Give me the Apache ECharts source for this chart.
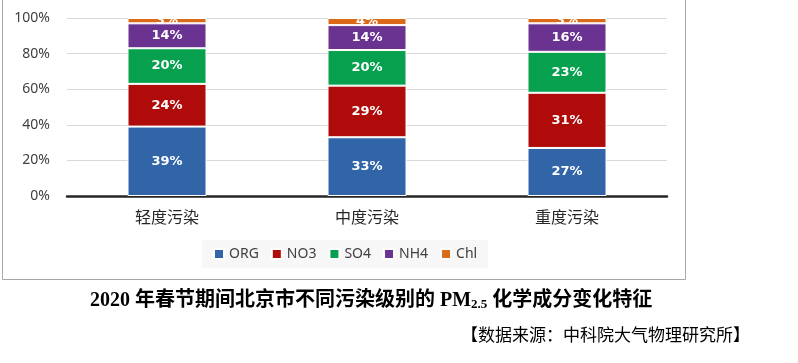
<!DOCTYPE html>
<html><head><meta charset="utf-8">
<script src="https://cdn.jsdelivr.net/npm/echarts@6/dist/echarts.min.js"></script>
<style>html,body{margin:0;padding:0;background:#fff}#c{width:798px;height:363px}</style>
</head><body><div id="c"></div>
<script>
const categories = ['轻度污染', '中度污染', '重度污染'];
const seriesNames = ['ORG', 'NO3', 'SO4', 'NH4', 'Chl'];
const ORG = [39, 33, 27];
const NO3 = [24, 29, 31];
const SO4 = [20, 20, 23];
const NH4 = [14, 14, 16];
const Chl = [3, 4, 3];
const yTicks = [0, 20, 40, 60, 80, 100];
const colors = ['#3165a8', '#b00b0b', '#07a04f', '#6a3392', '#db6a18'];
const values = [ORG, NO3, SO4, NH4, Chl];

const chart = echarts.init(document.getElementById('c'), null, {renderer: 'canvas'});
chart.setOption({
  animation: false,
  color: colors,
  title: {
    left: 85, top: 285,
    text: '2020 年春节期间北京市不同污染级别的 PM{sub|2.5} 化学成分变化特征',
    textStyle: {
      fontFamily: "'Liberation Serif', 'Noto Sans CJK SC'", fontWeight: 'bold', fontSize: 20, color: '#000',
      rich: { sub: { fontFamily: "'Liberation Serif'", fontWeight: 'bold', fontSize: 13, color: '#000', verticalAlign: 'bottom', padding: [8, 0, 0, 0] } }
    }
  },
  graphic: [
    { type: 'rect', shape: { x: 2.5, y: -2, width: 683, height: 281.5 }, style: { fill: 'none', stroke: '#a6a6a6', lineWidth: 1 }, silent: true },
    { type: 'text', right: 48, top: 326, style: { text: '【数据来源：中科院大气物理研究所】', font: "17px 'Noto Sans CJK SC'", fill: '#000' } }
  ],
  legend: {
    data: seriesNames, left: 202, top: 240, icon: 'rect', itemWidth: 10, itemHeight: 10, itemGap: 12,
    backgroundColor: '#f7f7f7', padding: [7, 11, 7, 11],
    textStyle: { fontSize: 14, color: '#404040', fontFamily: "'Noto Sans', sans-serif" }
  },
  grid: { left: 67, right: 131, top: 18, bottom: 167 },
  xAxis: {
    type: 'category', data: categories,
    axisLine: { lineStyle: { color: '#262626', width: 2.5 } },
    axisTick: { show: false },
    axisLabel: { fontSize: 16, color: '#262626', margin: 13, fontFamily: "'Noto Sans CJK SC'" }
  },
  yAxis: {
    type: 'value', min: 0, max: 100, interval: 20,
    axisLabel: { formatter: v => yTicks.includes(v) ? v + '%' : '', fontSize: 14, color: '#404040', margin: 17, fontFamily: "'Noto Sans', sans-serif" },
    axisLine: { show: false }, axisTick: { show: false },
    splitLine: { lineStyle: { color: '#d9d9d9', width: 1 } }
  },
  series: seriesNames.map((n, i) => ({
    name: n, type: 'bar', stack: 'total', barWidth: 79, data: values[i],
    itemStyle: { borderColor: '#fff', borderWidth: 1 },
    label: { show: true, position: 'inside', formatter: '{c}%', color: '#fff', fontWeight: 'bold', fontSize: 13, fontFamily: "'DejaVu Sans', sans-serif" }
  }))
});
</script></body></html>
